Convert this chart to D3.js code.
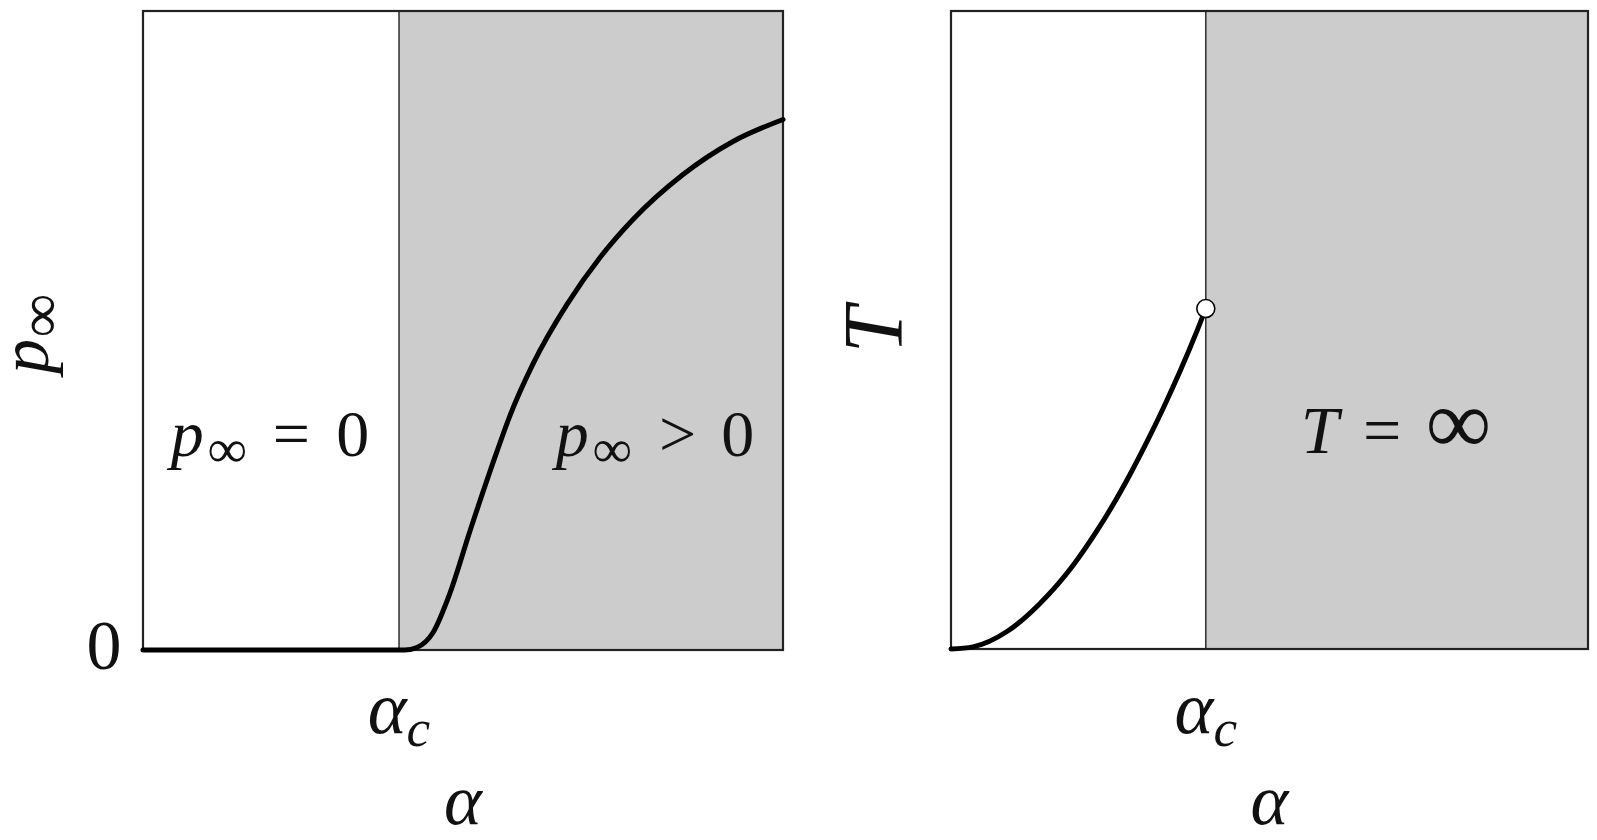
<!DOCTYPE html>
<html>
<head>
<meta charset="utf-8">
<script src="https://cdn.jsdelivr.net/npm/d3@7"></script>
<style>
body { margin: 0; background: #fff; }
svg text { font-family: "Liberation Serif", "DejaVu Serif", serif; fill: #111; }
</style>
</head>
<body>
<svg></svg>
<script>
var width = 1597, height = 840;

// critical point, as a fraction of the alpha range
var alphaC = 0.4;

// left panel: order parameter p_inf(alpha)
var alphaLeft = [0, 0.40, 0.409, 0.428, 0.453, 0.4797, 0.5109, 0.5531, 0.5734, 0.6094, 0.6625, 0.7141, 0.7656, 0.8438, 0.9219, 1.0];
var pInf      = [0, 0, 0, 0.004, 0.027, 0.0892, 0.1862, 0.3108, 0.3668, 0.4477, 0.5408, 0.6142, 0.6737, 0.7441, 0.7958, 0.8302];

// right panel: T(alpha), diverges past alpha_c
var alphaRight = [0, 0.0345, 0.0879, 0.1397, 0.1915, 0.2292, 0.2543, 0.2810, 0.3077, 0.3328, 0.3595, 0.3862, 0.4];
var tVal       = [0, 0.0034, 0.0274, 0.0714, 0.1309, 0.1854, 0.2260, 0.2735, 0.3249, 0.3766, 0.4353, 0.4987, 0.5336];

var svg = d3.select('svg')
	.attr('width', width)
	.attr('height', height);

var panels = [
	{left: 143, right: 783, top: 11, bottom: 650, xs: alphaLeft, ys: pInf, dot: false},
	{left: 951, right: 1588, top: 11, bottom: 649, xs: alphaRight, ys: tVal, dot: true}
];

panels.forEach(function(p){
	p.x = d3.scaleLinear().domain([0, 1]).range([p.left, p.right]);
	p.y = d3.scaleLinear().domain([0, 1]).range([p.bottom, p.top]);
	var g = svg.append('g');

	g.append('rect')
		.attr('x', p.x(alphaC)).attr('y', p.top)
		.attr('width', p.x(1) - p.x(alphaC)).attr('height', p.bottom - p.top)
		.attr('fill', '#cccccc');
	g.append('line')
		.attr('x1', p.x(alphaC)).attr('x2', p.x(alphaC))
		.attr('y1', p.top).attr('y2', p.bottom)
		.attr('stroke', '#111').attr('stroke-width', 1.3);
	g.append('rect')
		.attr('x', p.left).attr('y', p.top)
		.attr('width', p.right - p.left).attr('height', p.bottom - p.top)
		.attr('fill', 'none').attr('stroke', '#222').attr('stroke-width', 2.2);

	var pts = p.xs.map(function(d, i){ return [d, p.ys[i]]; });
	var line = d3.line()
		.x(function(d){ return p.x(d[0]); })
		.y(function(d){ return p.y(d[1]); })
		.curve(d3.curveMonotoneX);
	g.append('path')
		.datum(pts)
		.attr('d', line)
		.attr('fill', 'none')
		.attr('stroke', '#000')
		.attr('stroke-width', 5)
		.attr('stroke-linecap', 'round');

	if(p.dot){
		var last = pts[pts.length - 1];
		g.append('circle')
			.attr('cx', p.x(last[0])).attr('cy', p.y(last[1]))
			.attr('r', 9)
			.attr('fill', '#fff').attr('stroke', '#000').attr('stroke-width', 1.6);
	}
});

// math-ish label: parts = [text, kind, dx(em), scale]
// kind: 'i' italic, 'r' roman, 's' subscript, 'r2' roman back on baseline after a subscript
function mathText(sel, x, y, size, parts, opts){
	opts = opts || {};
	var sub = opts.sub || 0.72;
	var t = sel.append('text')
		.attr('text-anchor', 'middle')
		.attr('font-size', size);
	if(opts.rotate) t.attr('transform', 'translate(' + x + ',' + y + ') rotate(-90)');
	else t.attr('x', x).attr('y', y);
	parts.forEach(function(pt){
		var s = t.append('tspan').text(pt[0]);
		if(pt[1] == 'i') s.attr('font-style', 'italic');
		if(pt[1] == 's') s.attr('font-size', size * sub).attr('dy', size * 0.17).attr('font-style', 'italic');
		if(pt[1] == 'r2') s.attr('dy', -size * 0.17);
		if(pt[2]) s.attr('dx', pt[2] * size);
		if(pt[3]) s.attr('font-size', size * pt[3]);
	});
	return t;
}

var L = panels[0], R = panels[1];

// in-panel region labels
mathText(svg, 270, 456, 66, [['p', 'i'], ['\u221E', 's', 0.06], ['=', 'r2', 0.4], ['0', 'r', 0.4]], {sub: 0.82});
mathText(svg, 655, 456, 66, [['p', 'i'], ['\u221E', 's', 0.06], ['>', 'r2', 0.42], ['0', 'r', 0.38]], {sub: 0.82});
mathText(svg, 1396, 453, 68, [['T', 'i'], ['=', 'r', 0.36], ['\u221E', 'r', 0.36, 1.35]]);

// y tick 0
mathText(svg, L.left - 39, L.bottom + 19, 70, [['0', 'r']]);

// alpha_c ticks
mathText(svg, L.x(alphaC), 733, 74, [['\u03B1', 'i'], ['c', 's']]);
mathText(svg, R.x(alphaC), 733, 74, [['\u03B1', 'i'], ['c', 's']]);

// x axis labels
mathText(svg, (L.left + L.right) / 2, 824, 72, [['\u03B1', 'i']]);
mathText(svg, (R.left + R.right) / 2, 824, 72, [['\u03B1', 'i']]);

// y axis labels (rotated)
mathText(svg, 48, 334, 70, [['p', 'i'], ['\u221E', 's', 0.03]], {rotate: true, sub: 0.85});
mathText(svg, 902, 330, 84, [['T', 'i']], {rotate: true});
</script>
</body>
</html>
